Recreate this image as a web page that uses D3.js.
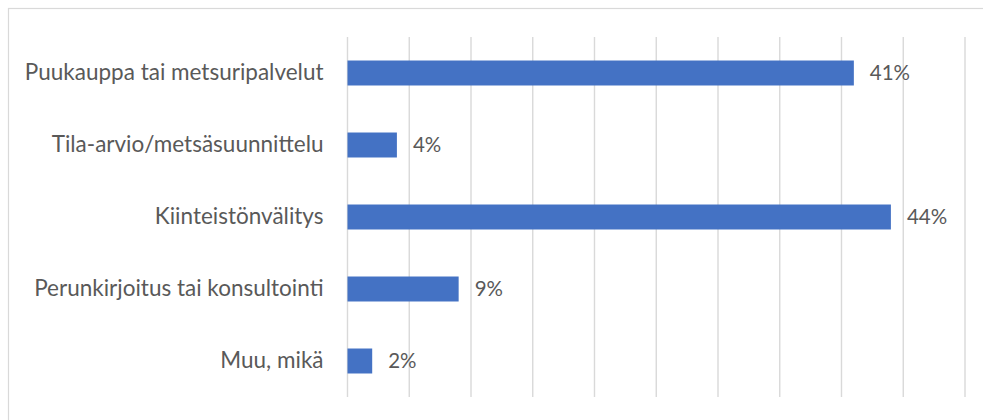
<!DOCTYPE html>
<html>
<head>
<meta charset="utf-8">
<script src="https://cdn.jsdelivr.net/npm/d3@7/dist/d3.min.js"></script>
<style>
  html, body { margin: 0; padding: 0; background: #fff; }
  svg { display: block; }
  text { font-family: Lato, "Open Sans", sans-serif; fill: #595959; }
</style>
</head>
<body>
<svg id="chart" width="983" height="420"></svg>
<script>
const categories = [
  "Puukauppa tai metsuripalvelut",
  "Tila-arvio/metsäsuunnittelu",
  "Kiinteistönvälitys",
  "Perunkirjoitus tai konsultointi",
  "Muu, mikä"
];
const values = [41, 4, 44, 9, 2];
const gridTicks = [0, 5, 10, 15, 20, 25, 30, 35, 40, 45, 50];

const svg = d3.select("#chart");
const W = 983, H = 420;

// chart frame (extends past the right and bottom edges)
svg.append("rect")
  .attr("x", 8.5).attr("y", 8.5)
  .attr("width", W + 20).attr("height", H + 20)
  .attr("fill", "#fff")
  .attr("stroke", "#d9d9d9")
  .attr("stroke-width", 1.2);

const plot = { left: 347.5, right: 965, top: 37, bottom: 397 };

const x = d3.scaleLinear().domain([0, 50]).range([plot.left, plot.right]);
const y = d3.scaleBand().domain(categories).range([plot.top, plot.bottom]).paddingInner(0.653).paddingOuter(0.3265);

// vertical gridlines
svg.append("g")
  .selectAll("line")
  .data(gridTicks)
  .join("line")
  .attr("x1", d => x(d)).attr("x2", d => x(d))
  .attr("y1", plot.top).attr("y2", plot.bottom)
  .attr("stroke", "#d9d9d9")
  .attr("stroke-width", 1.4);

// bars
svg.append("g")
  .selectAll("rect")
  .data(categories)
  .join("rect")
  .attr("x", x(0))
  .attr("y", d => y(d))
  .attr("width", (d, i) => x(values[i]) - x(0))
  .attr("height", y.bandwidth())
  .attr("fill", "#4472c4");

// category labels
const yAxis = d3.axisLeft(y).tickSize(0).tickPadding(24);
const ag = svg.append("g")
  .attr("transform", `translate(${plot.left},0)`)
  .call(yAxis);
ag.select(".domain").remove();
ag.selectAll("text")
  .attr("font-size", 22.5)
  .attr("font-family", "Lato, 'Open Sans', sans-serif")
  .attr("fill", "#595959");

// value labels
svg.append("g")
  .selectAll("text")
  .data(categories)
  .join("text")
  .attr("x", (d, i) => x(values[i]) + 16)
  .attr("y", d => y(d) + y.bandwidth() / 2)
  .attr("dy", "0.35em")
  .attr("font-size", 20.5)
  .text((d, i) => values[i] + "%");
</script>
</body>
</html>
